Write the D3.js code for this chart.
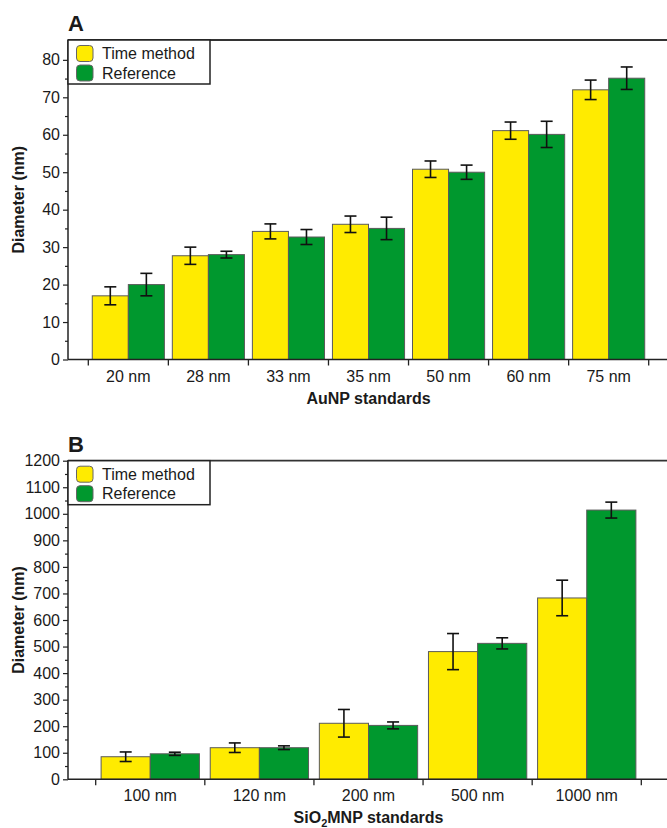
<!DOCTYPE html>
<meta charset="utf-8">
<html>
<head>
<script src="https://cdnjs.cloudflare.com/ajax/libs/d3/7.8.5/d3.min.js"></script>
<style>
  body { margin: 0; background: #fff; }
  svg text { font-family: "Liberation Sans", Arial, Helvetica, sans-serif; fill: #1a1a1a; }
</style>
</head>
<body>
<script>
// ---- data ----
var seriesNames = ["Time method", "Reference"];
var seriesColors = ["#ffeb00", "#00982e"];

var catsA = ["20 nm", "28 nm", "33 nm", "35 nm", "50 nm", "60 nm", "75 nm"];
var timeA = [17.0, 27.7, 34.2, 36.1, 50.8, 61.1, 72.0];
var timeErrA = [2.4, 2.3, 2.0, 2.2, 2.2, 2.3, 2.6];
var refA = [20.0, 28.0, 32.7, 35.0, 50.0, 60.1, 75.1];
var refErrA = [3.0, 0.9, 2.0, 3.0, 1.9, 3.5, 3.0];
var ticksA = [0, 10, 20, 30, 40, 50, 60, 70, 80];

var catsB = ["100 nm", "120 nm", "200 nm", "500 nm", "1000 nm"];
var timeB = [85, 119, 211, 481, 683];
var timeErrB = [18, 18, 52, 68, 67];
var refB = [96, 119, 203, 512, 1014];
var refErrB = [6, 7, 13, 21, 30];
var ticksB = [0, 100, 200, 300, 400, 500, 600, 700, 800, 900, 1000, 1100, 1200];

var svg = d3.select("body").append("svg")
    .attr("width", 667)
    .attr("height", 828);

function drawPanel(p) {
    var g = svg.append("g");
    var y = d3.scaleLinear().domain([0, p.yMax]).range([p.bottom, p.top]);
    var x = d3.scaleBand().domain(p.cats).range([p.x0, p.x1]).padding(0);
    var xs = d3.scaleBand().domain(seriesNames).range([0, x.bandwidth()])
        .paddingInner(0).paddingOuter(0.11);

    var rows = p.cats.map(function(c, i) {
        return [
            {cat: c, s: seriesNames[0], v: p.time[i], e: p.timeErr[i]},
            {cat: c, s: seriesNames[1], v: p.ref[i], e: p.refErr[i]}
        ];
    });
    var flat = d3.merge(rows);

    // bars
    g.selectAll("rect.bar").data(flat).enter().append("rect")
        .attr("class", "bar")
        .attr("x", function(d) { return x(d.cat) + xs(d.s); })
        .attr("y", function(d) { return y(d.v); })
        .attr("width", xs.bandwidth())
        .attr("height", function(d) { return y(0) - y(d.v); })
        .attr("fill", function(d) { return seriesColors[seriesNames.indexOf(d.s)]; })
        .attr("stroke", "#5a5a5a")
        .attr("stroke-width", 1);

    // error bars
    var eb = g.selectAll("g.err").data(flat).enter().append("g")
        .attr("class", "err")
        .attr("stroke", "#111")
        .attr("stroke-width", 1.6);
    eb.append("line")
        .attr("x1", function(d) { return x(d.cat) + xs(d.s) + xs.bandwidth() / 2; })
        .attr("x2", function(d) { return x(d.cat) + xs(d.s) + xs.bandwidth() / 2; })
        .attr("y1", function(d) { return y(d.v + d.e); })
        .attr("y2", function(d) { return y(d.v - d.e); });
    [1, -1].forEach(function(sgn) {
        eb.append("line")
            .attr("x1", function(d) { return x(d.cat) + xs(d.s) + xs.bandwidth() / 2 - 6; })
            .attr("x2", function(d) { return x(d.cat) + xs(d.s) + xs.bandwidth() / 2 + 6; })
            .attr("y1", function(d) { return y(d.v + sgn * d.e); })
            .attr("y2", function(d) { return y(d.v + sgn * d.e); });
    });

    // y axis, minor then major
    var step = p.ticks[1] - p.ticks[0];
    var minor = p.ticks.slice(0, -1).map(function(t) { return t + step / 2; });
    g.append("g").attr("transform", "translate(" + p.axisX + ",0)")
        .call(d3.axisLeft(y).tickValues(minor).tickSize(3).tickFormat(""))
        .call(function(a) { a.select(".domain").remove(); })
        .selectAll("line").attr("stroke", "#222").attr("stroke-width", 1.2);
    var ya = g.append("g").attr("transform", "translate(" + p.axisX + ",0)")
        .call(d3.axisLeft(y).tickValues(p.ticks).tickSize(5).tickPadding(3).tickFormat(d3.format("d")));
    ya.select(".domain").remove();
    ya.selectAll("line").attr("stroke", "#222").attr("stroke-width", 1.2);
    ya.selectAll("text").attr("font-size", 16).attr("font-family", "Liberation Sans, Arial, sans-serif")
        .attr("fill", "#1a1a1a");

    // axis lines and frame top
    g.append("line").attr("x1", p.axisX).attr("x2", p.axisX)
        .attr("y1", p.top).attr("y2", p.bottom).attr("stroke", "#222").attr("stroke-width", 1.5);
    g.append("line").attr("x1", p.axisX).attr("x2", 667)
        .attr("y1", p.bottom).attr("y2", p.bottom).attr("stroke", "#222").attr("stroke-width", 1.5);
    g.append("line").attr("x1", p.axisX).attr("x2", 667)
        .attr("y1", p.top).attr("y2", p.top).attr("stroke", "#333").attr("stroke-width", 1.8);

    // category boundary ticks
    var bounds = p.cats.map(function(c) { return x(c); }).concat([p.x1]);
    g.selectAll("line.xt").data(bounds).enter().append("line")
        .attr("x1", function(d) { return d; }).attr("x2", function(d) { return d; })
        .attr("y1", p.bottom).attr("y2", p.bottom + 6)
        .attr("stroke", "#222").attr("stroke-width", 1.3);

    // category labels
    g.selectAll("text.cat").data(p.cats).enter().append("text")
        .attr("x", function(c) { return x(c) + x.bandwidth() / 2; })
        .attr("y", p.bottom + 22)
        .attr("text-anchor", "middle")
        .attr("font-size", 16)
        .text(function(c) { return c; });

    // x title
    var xt = g.append("text")
        .attr("x", (p.x0 + p.x1) / 2)
        .attr("y", p.bottom + 44)
        .attr("text-anchor", "middle")
        .attr("font-size", 16)
        .attr("font-weight", "bold");
    p.xTitle.forEach(function(part) {
        var t = xt.append("tspan").text(part.t);
        if (part.sub) t.attr("font-size", 11).attr("dy", 4);
        if (part.after) t.attr("dy", -4);
    });

    // y title
    g.append("text")
        .attr("transform", "translate(24," + (p.top + p.bottom) / 2 + ") rotate(-90)")
        .attr("text-anchor", "middle")
        .attr("font-size", 16)
        .attr("font-weight", "bold")
        .text("Diameter (nm)");

    // panel letter
    g.append("text")
        .attr("x", 68).attr("y", p.top - 9)
        .attr("font-size", 22).attr("font-weight", "bold")
        .text(p.letter);

    // legend
    var lg = g.append("g").attr("transform", "translate(" + p.axisX + "," + p.top + ")");
    lg.append("rect").attr("x", 0).attr("y", 0).attr("width", 142).attr("height", 44)
        .attr("fill", "#fff").attr("stroke", "#222").attr("stroke-width", 1.5);
    seriesNames.forEach(function(n, i) {
        lg.append("rect").attr("x", 8.5).attr("y", 5.5 + i * 19.5)
            .attr("width", 16.5).attr("height", 16).attr("rx", 3.5)
            .attr("fill", seriesColors[i]).attr("stroke", "#666").attr("stroke-width", 1);
        lg.append("text").attr("x", 34).attr("y", 19 + i * 19.5)
            .attr("font-size", 16).text(n);
    });
}

drawPanel({
    letter: "A", cats: catsA, time: timeA, timeErr: timeErrA, ref: refA, refErr: refErrA,
    ticks: ticksA, yMax: 85.3, top: 40, bottom: 359.5, axisX: 68, x0: 88.3, x1: 648.7,
    xTitle: [{t: "AuNP standards"}]
});

drawPanel({
    letter: "B", cats: catsB, time: timeB, timeErr: timeErrB, ref: refB, refErr: refErrB,
    ticks: ticksB, yMax: 1200, top: 460.7, bottom: 779.3, axisX: 68, x0: 95.7, x1: 641.3,
    xTitle: [{t: "SiO"}, {t: "2", sub: true}, {t: "MNP standards", after: true}]
});
</script>
</body>
</html>
